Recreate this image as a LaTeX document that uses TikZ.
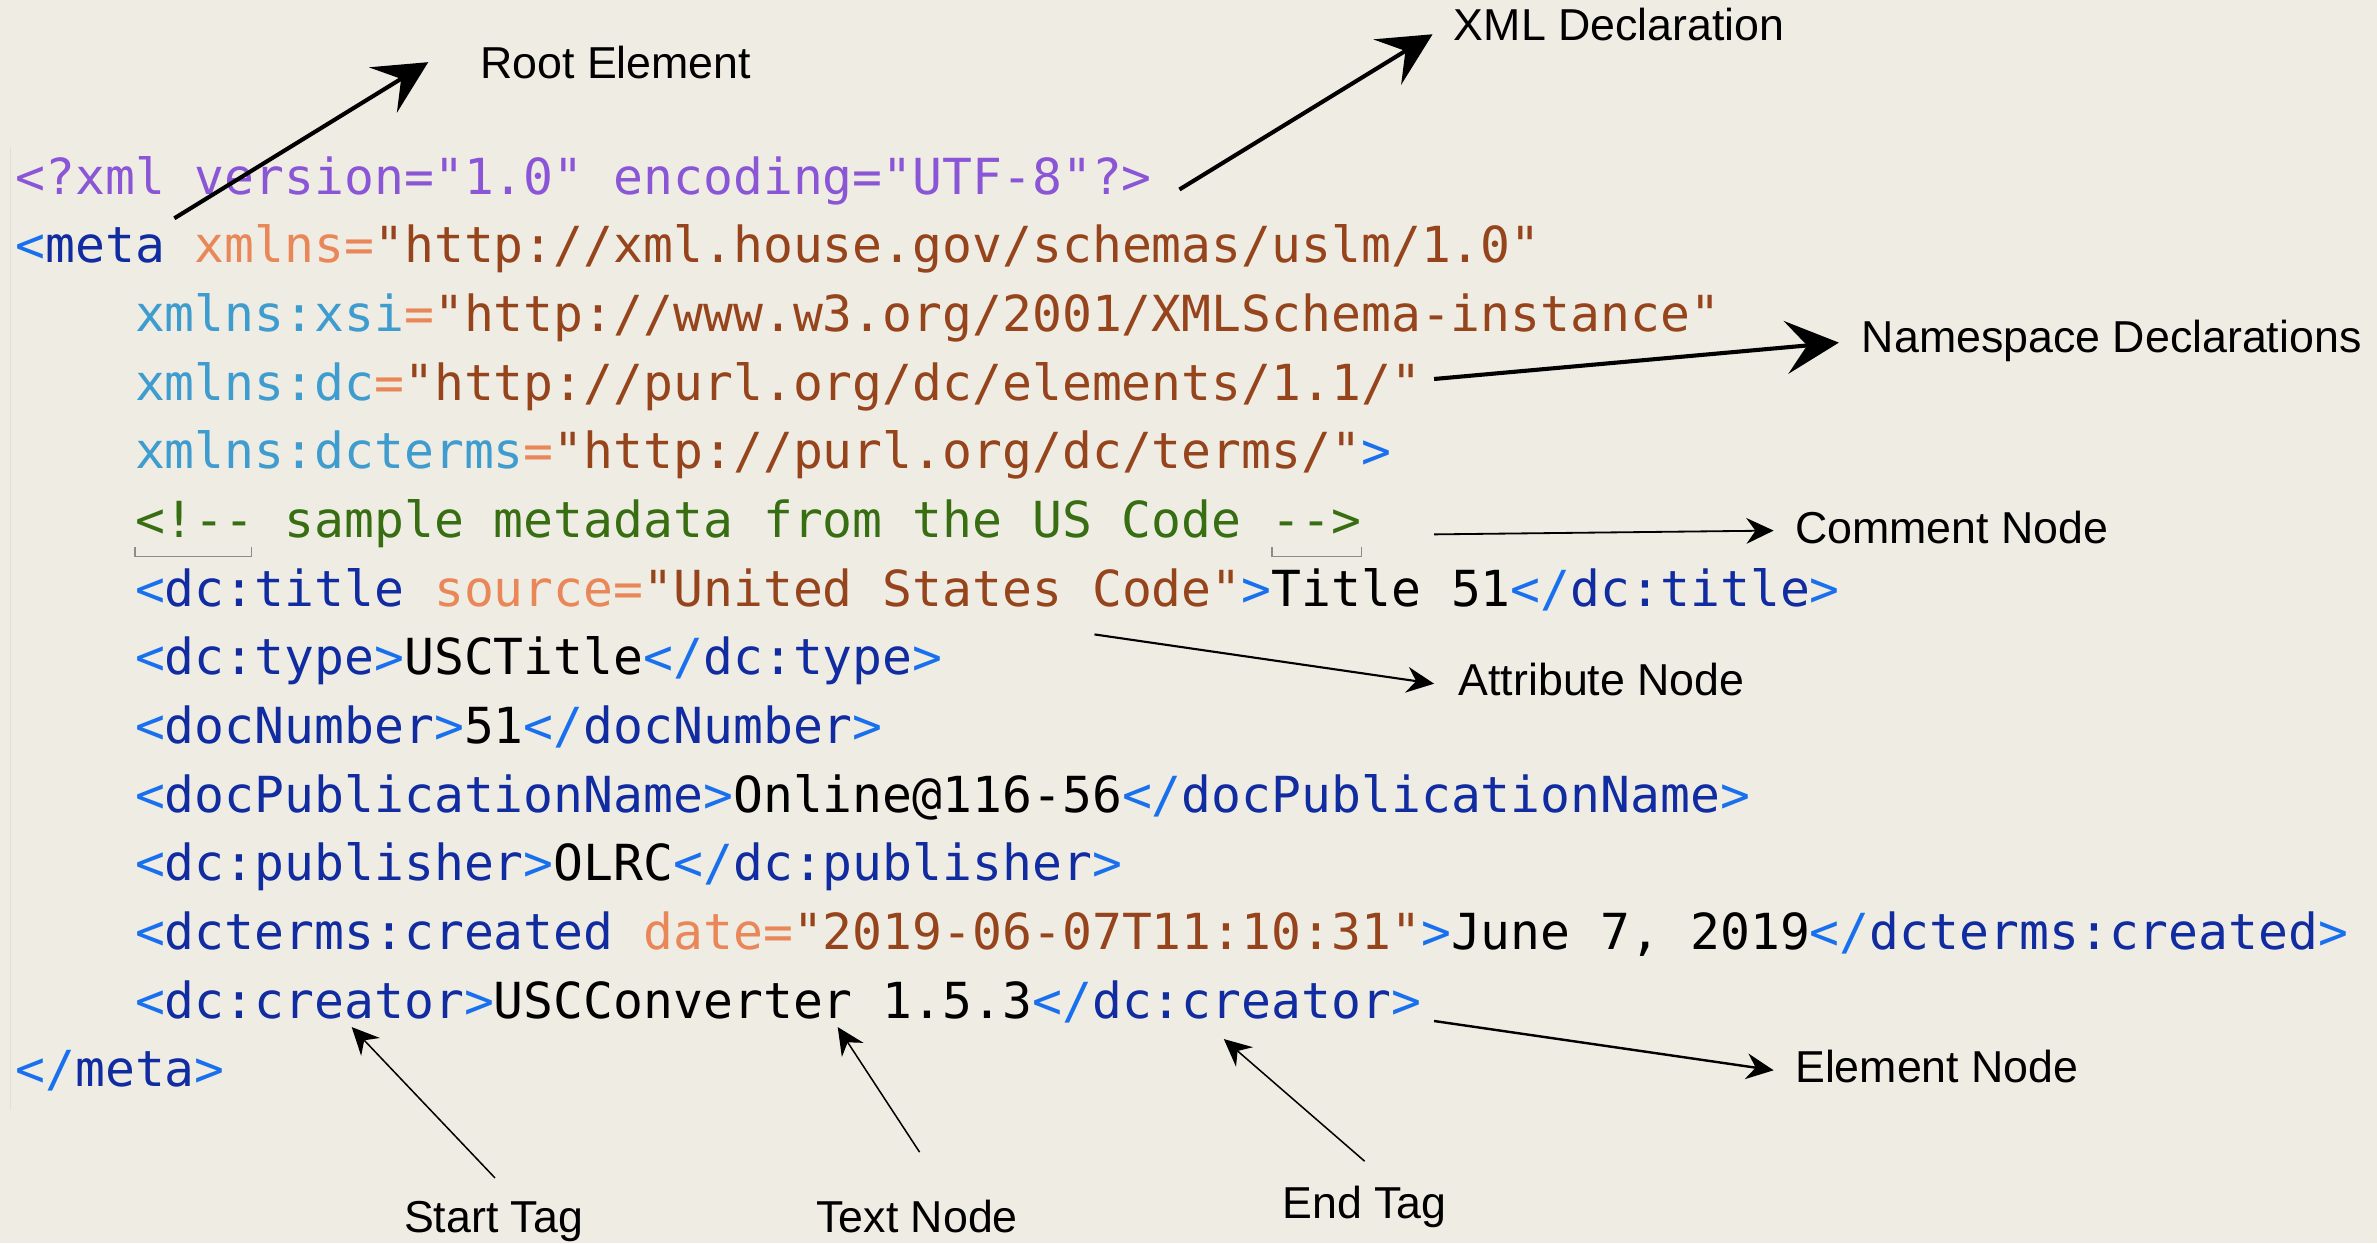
\documentclass[tikz,border=0pt]{standalone}
\usepackage{fontspec}
\setmainfont{Liberation Sans}
\newfontfamily\codefont[Ligatures=TeXOff]{DejaVu Sans Mono}
\usetikzlibrary{arrows.meta}

\definecolor{paper}{RGB}{239,236,228}
\definecolor{panel}{RGB}{226,223,214}
\definecolor{pidecl}{RGB}{138,86,214}
\definecolor{bracket}{RGB}{24,112,238}
\definecolor{tagname}{RGB}{16,44,160}
\definecolor{attname}{RGB}{233,135,88}
\definecolor{nsname}{RGB}{62,156,206}
\definecolor{attval}{RGB}{150,68,28}
\definecolor{comment}{RGB}{56,110,18}
\definecolor{match}{RGB}{140,140,140}

% syntax colours
\newcommand\xbr[1]{\textcolor{bracket}{#1}}
\newcommand\xtag[1]{\textcolor{tagname}{#1}}
\newcommand\xatt[1]{\textcolor{attname}{#1}}
\newcommand\xns[1]{\textcolor{nsname}{#1}}
\newcommand\xeq{\textcolor{attname}{=}}
\newcommand\xval[1]{\textcolor{attval}{#1}}

\begin{document}
\begin{tikzpicture}[
    x=1pt, y=-1pt,
    code/.style={anchor=base west, inner sep=0pt, font=\codefont\fontsize{32.77}{36}\selectfont},
    lab/.style={inner sep=0pt, font=\fontsize{29.5}{32}\selectfont},
    bigarr/.style={line width=2.7pt, -{Stealth[length=35pt, width=35pt, inset=14pt]}},
    smallarr/.style={line width=1.2pt, -{Stealth[length=18pt, width=17pt, inset=6pt]}}
]
\useasboundingbox (0,0) rectangle (1568,820);
\fill[paper] (0,0) rectangle (1568,820);
\draw[panel, line width=0.8pt] (7,97) -- (7,732);

\node[code, pidecl] (l0) at (10,128) {<?xml version="1.0" encoding="UTF-8"?>};
\node[code] (l1) at (10,173.3) {\xbr{<}\xtag{meta} \xatt{xmlns=}\xval{"http://xml.house.gov/schemas/uslm/1.0"}};
\node[code] (l2) at (88.9,218.6) {\xns{xmlns:xsi}\xeq\xval{"http://www.w3.org/2001/XMLSchema-instance"}};
\node[code] (l3) at (88.9,263.9) {\xns{xmlns:dc}\xeq\xval{"http://purl.org/dc/elements/1.1/"}};
\node[code] (l4) at (88.9,309.2) {\xns{xmlns:dcterms}\xeq\xval{"http://purl.org/dc/terms/"}\xbr{>}};
\node[code, comment] (l5) at (88.9,354.5) {<!-- sample metadata from the US Code -->};
\node[code] (l6) at (88.9,399.8) {\xbr{<}\xtag{dc:title} \xatt{source=}\xval{"United States Code"}\xbr{>}Title 51\xbr{</}\xtag{dc:title}\xbr{>}};
\node[code] (l7) at (88.9,445.1) {\xbr{<}\xtag{dc:type}\xbr{>}USCTitle\xbr{</}\xtag{dc:type}\xbr{>}};
\node[code] (l8) at (88.9,490.4) {\xbr{<}\xtag{docNumber}\xbr{>}51\xbr{</}\xtag{docNumber}\xbr{>}};
\node[code] (l9) at (88.9,535.7) {\xbr{<}\xtag{docPublicationName}\xbr{>}Online@116-56\xbr{</}\xtag{docPublicationName}\xbr{>}};
\node[code] (l10) at (88.9,581) {\xbr{<}\xtag{dc:publisher}\xbr{>}OLRC\xbr{</}\xtag{dc:publisher}\xbr{>}};
\node[code] (l11) at (88.9,626.3) {\xbr{<}\xtag{dcterms:created} \xatt{date=}\xval{"2019-06-07T11:10:31"}\xbr{>}June 7, 2019\xbr{</}\xtag{dcterms:created}\xbr{>}};
\node[code] (l12) at (88.9,671.6) {\xbr{<}\xtag{dc:creator}\xbr{>}USCConverter 1.5.3\xbr{</}\xtag{dc:creator}\xbr{>}};
\node[code] (l13) at (10,716.9) {\xbr{</}\xtag{meta}\xbr{>}};

% matching brackets under the comment delimiters
\draw[match, line width=1pt] (89,361) -- (89,367) -- (166,367) -- (166,361);
\draw[match, line width=1pt] (839,361) -- (839,367) -- (898,367) -- (898,361);

\coordinate (rootTail) at (115,144);
\coordinate (rootTip)  at (282.5,41);
\coordinate (declTail) at (778,125);
\coordinate (declTip)  at (945,22.6);
\coordinate (nsTail)   at (946,250);
\coordinate (nsTip)    at (1213,226);
\coordinate (comTail)  at (946,352.5);
\coordinate (comTip)   at (1170,350);
\coordinate (attTail)  at (722,418.5);
\coordinate (attTip)   at (946,451);
\coordinate (elemTail) at (946,673.5);
\coordinate (elemTip)  at (1170,706);
\coordinate (stTail)   at (326.5,777);
\coordinate (stTip)    at (232,677.5);
\coordinate (txtTail)  at (606.6,760);
\coordinate (txtTip)   at (552.6,677.5);
\coordinate (endTail)  at (900.2,766);
\coordinate (endTip)   at (807.3,685.4);

\node[lab, anchor=base west] (lblRoot) at (316.6,51.6) {Root Element};
\node[lab, anchor=base west] (lblDecl) at (958.9,26.8) {XML Declaration};
\node[lab, anchor=base west] (lblNs)   at (1228,232.6) {Namespace Declarations};
\node[lab, anchor=base west] (lblCom)  at (1184,358.8) {Comment Node};
\node[lab, anchor=base west] (lblAtt)  at (962,459)    {Attribute Node};
\node[lab, anchor=base west] (lblElem) at (1184,714)   {Element Node};
\node[lab, anchor=base] (lblStart) at (325.6,813) {Start Tag};
\node[lab, anchor=base] (lblText)  at (605,813)   {Text Node};
\node[lab, anchor=base] (lblEnd)   at (900,803.5) {End Tag};

\draw[bigarr] (rootTail) -- (rootTip);
\draw[bigarr] (declTail) -- (declTip);
\draw[bigarr] (nsTail) -- (nsTip);
\draw[smallarr] (comTail) -- (comTip);
\draw[smallarr, line width=1.4pt] (attTail) -- (attTip);
\draw[smallarr, line width=1.6pt] (elemTail) -- (elemTip);
\draw[smallarr, line width=1pt] (stTail) -- (stTip);
\draw[smallarr, line width=1pt] (txtTail) -- (txtTip);
\draw[smallarr, line width=1pt] (endTail) -- (endTip);

\end{tikzpicture}
\end{document}
